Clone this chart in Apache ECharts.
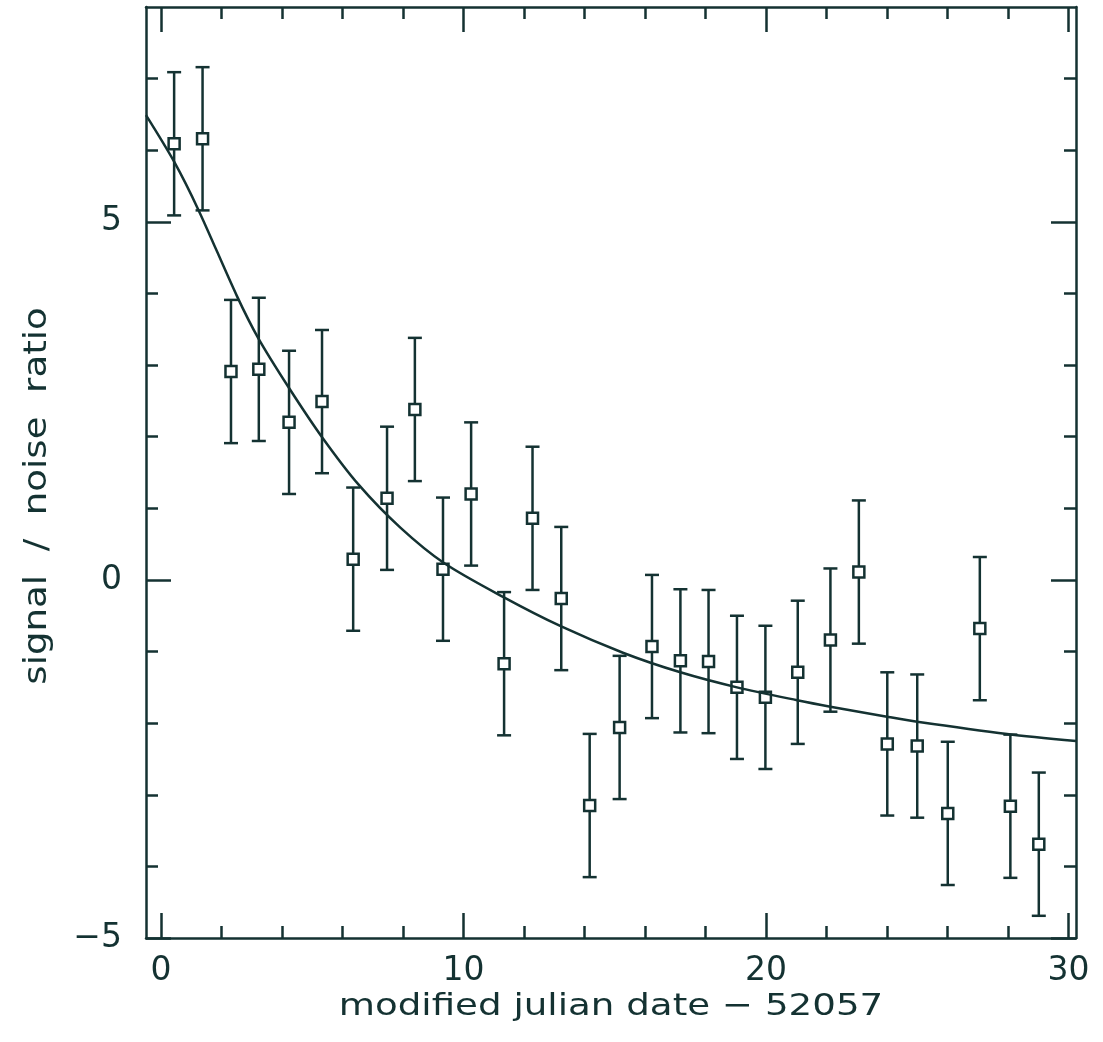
<!DOCTYPE html>
<html>
<head>
<meta charset="utf-8">
<script src="https://cdn.jsdelivr.net/npm/echarts@6/dist/echarts.min.js"></script>
<style>
  html, body { margin: 0; padding: 0; background: #fff; }
  #chart { width: 1103px; height: 1042px; }
</style>
</head>
<body>
<div id="chart"></div>
<script>
// measurements: days since MJD 52057, S/N with 1-sigma errors
const dayOffsets = [0.43, 1.37, 2.31, 3.23, 4.23, 5.32, 6.35, 7.47, 8.39, 9.32,
  10.25, 11.34, 12.28, 13.23, 14.17, 15.16, 16.23, 17.17, 18.10, 19.04,
  19.98, 21.05, 22.13, 23.07, 24.01, 25.00, 26.01, 27.07, 28.08, 29.02];
const snrValues = [6.09, 6.16, 2.91, 2.94, 2.20, 2.49, 0.29, 1.14, 2.38, 0.15,
  1.20, -1.17, 0.86, -0.26, -3.15, -2.06, -0.93, -1.13, -1.14, -1.50,
  -1.64, -1.29, -0.84, 0.11, -2.29, -2.32, -3.26, -0.68, -3.16, -3.69];
const snrErrors = [1, 1, 1, 1, 1, 1, 1, 1, 1, 1,
  1, 1, 1, 1, 1, 1, 1, 1, 1, 1,
  1, 1, 1, 1, 1, 1, 1, 1, 1, 1];

// fitted curve
const fitX = [-0.5, 0.43, 1.23, 2.5, 3.22, 4.23, 5.31, 6.53, 7.91, 9.34,
  11.32, 13.23, 15.29, 17.17, 19.04, 21.03, 22.13, 24.0, 25.0, 27.97, 30.25];
const fitY = [6.49, 5.84, 5.17, 3.97, 3.37, 2.68, 2.00, 1.33, 0.73, 0.24,
  -0.24, -0.65, -1.02, -1.29, -1.50, -1.68, -1.77, -1.91, -1.98, -2.15, -2.25];

// ticks
const xMajorTicks = [0, 10, 20, 30];
const xMinorTicks = [2, 4, 6, 8, 12, 14, 16, 18, 22, 24, 26, 28];
const yMajorTicks = [-5, 0, 5];
const yMinorTicks = [-4, -3, -2, -1, 1, 2, 3, 4, 6, 7];

const ink = "#143232";
const font = "DejaVu Sans";
const lw = 2.5;

const chart = echarts.init(document.getElementById("chart"));

const mkX = (pos, ticks, len, withLabel, showLine) => ({
  type: "value",
  position: pos,
  min: -0.5,
  max: 30.25,
  splitLine: { show: false },
  axisLine: { show: showLine, onZero: false, lineStyle: { color: ink, width: lw } },
  axisTick: { show: true, inside: true, length: len, customValues: ticks, lineStyle: { color: ink, width: lw } },
  axisLabel: withLabel
    ? { show: true, customValues: ticks, margin: 17, color: ink, fontFamily: font, fontSize: 33 }
    : { show: false },
});

const mkY = (pos, ticks, len, withLabel, showLine) => ({
  type: "value",
  position: pos,
  min: -5,
  max: 8,
  splitLine: { show: false },
  axisLine: { show: showLine, onZero: false, lineStyle: { color: ink, width: lw } },
  axisTick: { show: true, inside: true, length: len, customValues: ticks, lineStyle: { color: ink, width: lw } },
  axisLabel: withLabel
    ? {
        show: true, customValues: ticks, margin: 24, color: ink, fontFamily: font, fontSize: 33,
        formatter: (v) => (v < 0 ? "\u2212" + Math.abs(v) : String(v)),
      }
    : { show: false },
});

const errorBars = dayOffsets.map((x, i) => [x, snrValues[i], snrErrors[i]]);

const option = {
  animation: false,
  backgroundColor: "#fff",
  grid: { left: 146, right: 27, top: 7, bottom: 104, containLabel: false },
  xAxis: [
    mkX("bottom", xMajorTicks, 25, true, true),
    mkX("bottom", xMinorTicks, 12, false, false),
    mkX("top", xMajorTicks, 25, false, true),
    mkX("top", xMinorTicks, 12, false, false),
  ],
  yAxis: [
    mkY("left", yMajorTicks, 25, true, true),
    mkY("left", yMinorTicks, 12, false, false),
    mkY("right", yMajorTicks, 25, false, true),
    mkY("right", yMinorTicks, 12, false, false),
  ],
  graphic: [
    {
      type: "text",
      x: 611,
      y: 1007,
      scaleX: 1.2,
      style: {
        text: "modified julian date \u2212 52057",
        fill: ink,
        font: "31px 'DejaVu Sans'",
        textAlign: "center",
        textVerticalAlign: "middle",
      },
    },
    {
      type: "text",
      x: 38,
      y: 496,
      rotation: Math.PI / 2,
      scaleX: 1.16,
      style: {
        text: "signal  /  noise  ratio",
        fill: ink,
        font: "32px 'DejaVu Sans'",
        textAlign: "center",
        textVerticalAlign: "middle",
      },
    },
  ],
  series: [
    {
      name: "fit",
      type: "line",
      xAxisIndex: 0,
      yAxisIndex: 0,
      smooth: 0.3,
      symbol: "none",
      clip: true,
      lineStyle: { color: ink, width: lw },
      data: fitX.map((x, i) => [x, fitY[i]]),
    },
    {
      name: "S/N",
      type: "custom",
      xAxisIndex: 0,
      yAxisIndex: 0,
      data: errorBars,
      renderItem: (params, api) => {
        const x = api.value(0);
        const y = api.value(1);
        const e = api.value(2);
        const top = api.coord([x, y + e]);
        const bot = api.coord([x, y - e]);
        const c = api.coord([x, y]);
        const half = 5.5;
        const cap = 7;
        const st = { stroke: ink, lineWidth: lw, fill: null };
        return {
          type: "group",
          children: [
            { type: "line", shape: { x1: top[0], y1: top[1], x2: c[0], y2: c[1] - half }, style: st },
            { type: "line", shape: { x1: c[0], y1: c[1] + half, x2: bot[0], y2: bot[1] }, style: st },
            { type: "line", shape: { x1: top[0] - cap, y1: top[1], x2: top[0] + cap, y2: top[1] }, style: st },
            { type: "line", shape: { x1: bot[0] - cap, y1: bot[1], x2: bot[0] + cap, y2: bot[1] }, style: st },
            { type: "rect", shape: { x: c[0] - half, y: c[1] - half, width: half * 2, height: half * 2 }, style: st },
          ],
        };
      },
    },
  ],
};

chart.setOption(option);
window.addEventListener("resize", () => chart.resize());
</script>
</body>
</html>
